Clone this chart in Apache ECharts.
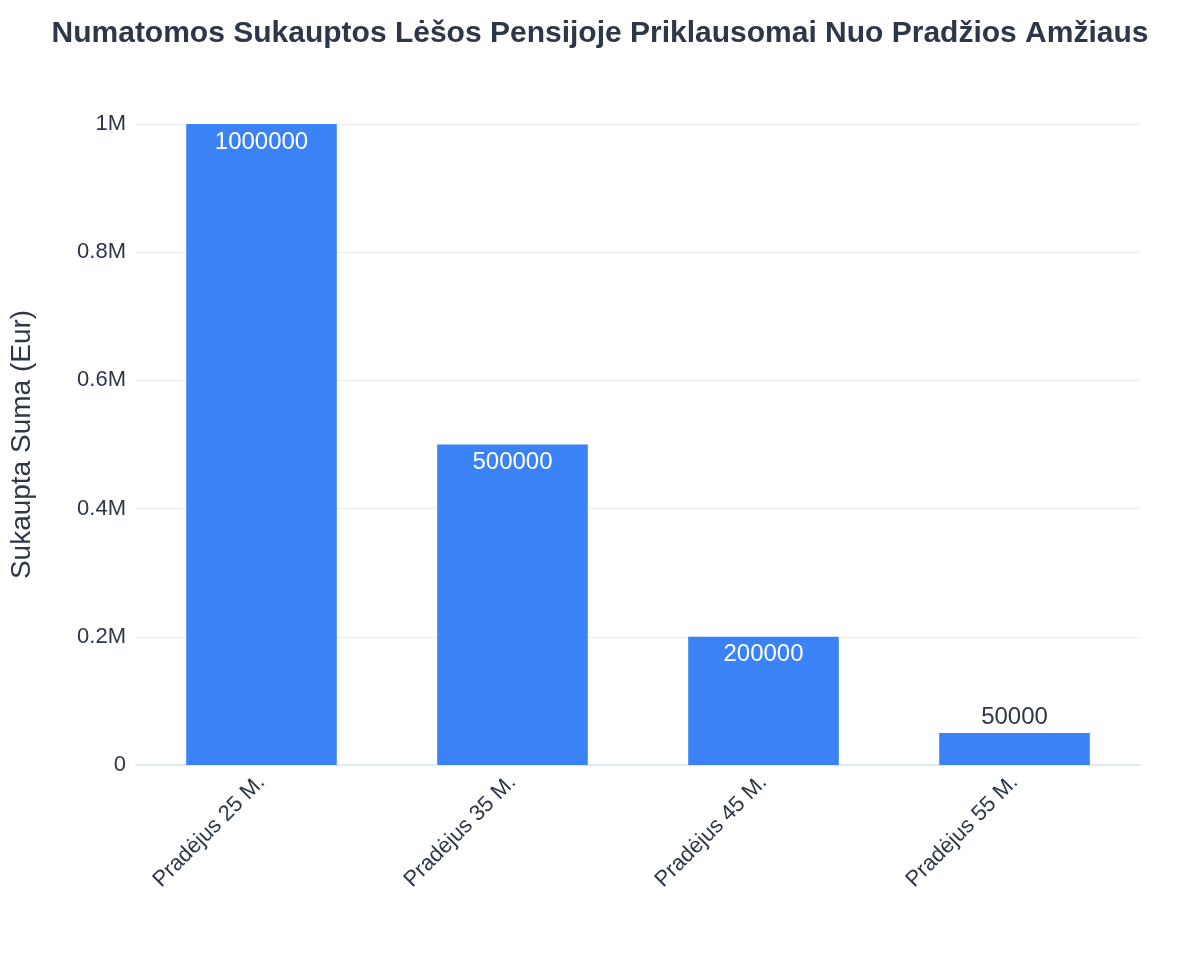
<!DOCTYPE html>
<html><head><meta charset="utf-8">
<script src="https://cdn.jsdelivr.net/npm/echarts@6/dist/echarts.min.js"></script>
<style>html,body{margin:0;padding:0;background:#fff}#c{width:1200px;height:975px}</style>
</head><body><div id="c"></div>
<script>
const categories = ['Pradėjus 25 M.', 'Pradėjus 35 M.', 'Pradėjus 45 M.', 'Pradėjus 55 M.'];
const values = [1000000, 500000, 200000, 50000];
const labelInside = [true, true, true, false];
const chart = echarts.init(document.getElementById('c'));
const txt = '#2d3748';
chart.setOption({
  backgroundColor: '#fff',
  title: {
    text: 'Numatomos Sukauptos Lėšos Pensijoje Priklausomai Nuo Pradžios Amžiaus',
    left: 'center', top: 14,
    textStyle: {fontFamily: 'Liberation Sans, Arial', fontSize: 30, fontWeight: 'bold', color: txt}
  },
  grid: {left: 132, right: 60, top: 124, bottom: 210},
  xAxis: {
    type: 'category', data: categories,
    axisTick: {show: false},
    axisLine: {lineStyle: {color: '#e2e8f0', width: 2}},
    axisLabel: {rotate: 45, fontSize: 22, color: txt, fontFamily: 'Liberation Sans, Arial', margin: 14}
  },
  yAxis: {
    type: 'value', min: 0, max: 1000000, interval: 200000,
    name: 'Sukaupta Suma (Eur)', nameLocation: 'middle', nameGap: 100, nameRotate: 90,
    nameTextStyle: {fontSize: 28, color: txt, fontFamily: 'Liberation Sans, Arial'},
    axisLabel: {fontSize: 22, color: txt, fontFamily: 'Liberation Sans, Arial', margin: 10,
      formatter: v => v === 0 ? '0' : (v / 1e6) + 'M'},
    splitLine: {lineStyle: {color: '#e8edf3'}}
  },
  series: [{
    type: 'bar', barWidth: '60%',
    data: values.map((v, i) => ({
      value: v,
      label: labelInside[i]
        ? {show: true, position: 'insideTop', color: '#fff', distance: 6}
        : {show: true, position: 'top', color: txt, distance: 4}
    })),
    itemStyle: {color: '#3b82f6'},
    label: {fontSize: 24, fontFamily: 'Liberation Sans, Arial'}
  }]
});
</script></body></html>
